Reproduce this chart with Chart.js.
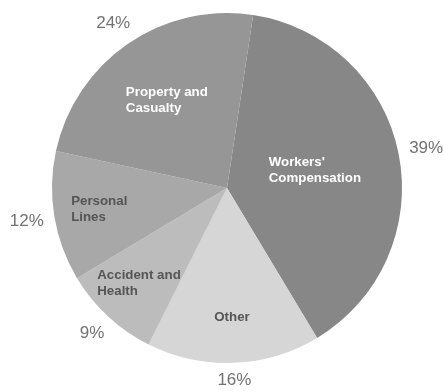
<!DOCTYPE html>
<html>
<head>
<meta charset="utf-8">
<script src="https://cdn.jsdelivr.net/npm/chart.js@4"></script>
<style>
    html, body { margin: 0; padding: 0; background: #fff; }
    #wrap { width: 443px; height: 391px; }
</style>
</head>
<body>
<div id="wrap"><canvas id="premiumPie" width="443" height="391"></canvas></div>
<script>
// Premium mix by line of business, clockwise from the top
const segments = ["Workers'\nCompensation", 'Other', 'Accident and\nHealth', 'Personal\nLines', 'Property and\nCasualty'];
const shares = [39, 16, 9, 12, 24];

const sliceColors = ['#878787', '#d6d6d6', '#bcbcbc', '#a8a8a8', '#969696'];
const nameColors = ['#ffffff', '#555555', '#555555', '#555555', '#ffffff'];

// Writes the segment names inside the slices and the shares around the rim
const sliceText = {
    id: 'sliceText',
    afterDatasetsDraw(chart) {
        const ctx = chart.ctx;
        const arcs = chart.getDatasetMeta(0).data;
        ctx.save();
        arcs.forEach((arc, i) => {
            const { x, y, startAngle, endAngle, outerRadius } = arc.getProps(['x', 'y', 'startAngle', 'endAngle', 'outerRadius'], true);
            const mid = (startAngle + endAngle) / 2;
            const half = (endAngle - startAngle) / 2;
            const cos = Math.cos(mid), sin = Math.sin(mid);

            // name: at the sector centroid for wide slices, further out for narrow ones
            const centroid = 2 * Math.sin(half) / (3 * half);
            const f = half > 0.6 ? centroid : 0.74;
            const lines = segments[i].split('\n');
            ctx.font = 'bold 13.3px "Liberation Sans Narrow", "Arial Narrow", sans-serif';
            const blockW = Math.max(...lines.map(l => ctx.measureText(l).width));
            const lineH = 16;
            const bx = x + cos * outerRadius * f - blockW / 2;
            const by = y + sin * outerRadius * f - (lines.length * lineH) / 2 + lineH / 2;
            ctx.fillStyle = nameColors[i];
            ctx.textAlign = 'left';
            ctx.textBaseline = 'middle';
            lines.forEach((l, k) => ctx.fillText(l, bx, by + k * lineH));

            // share outside the rim
            const pct = shares[i] + '%';
            ctx.font = '17px "Liberation Sans Narrow", "Arial Narrow", sans-serif';
            const w = ctx.measureText(pct).width;
            const d = outerRadius + 10 + (w / 2) * Math.abs(cos) + 7 * Math.abs(sin);
            ctx.fillStyle = '#727272';
            ctx.textAlign = 'center';
            ctx.fillText(pct, x + cos * d, y + sin * d);
        });
        ctx.restore();
    }
};

new Chart(document.getElementById('premiumPie'), {
    type: 'pie',
    data: {
        labels: segments,
        datasets: [{
            data: shares,
            backgroundColor: sliceColors,
            borderWidth: 0
        }]
    },
    options: {
        responsive: false,
        animation: false,
        rotation: 8.6,
        layout: { padding: { top: 13, bottom: 28, left: 11, right: 0 } },
        plugins: {
            legend: { display: false },
            tooltip: { enabled: false }
        }
    },
    plugins: [sliceText]
});
</script>
</body>
</html>
